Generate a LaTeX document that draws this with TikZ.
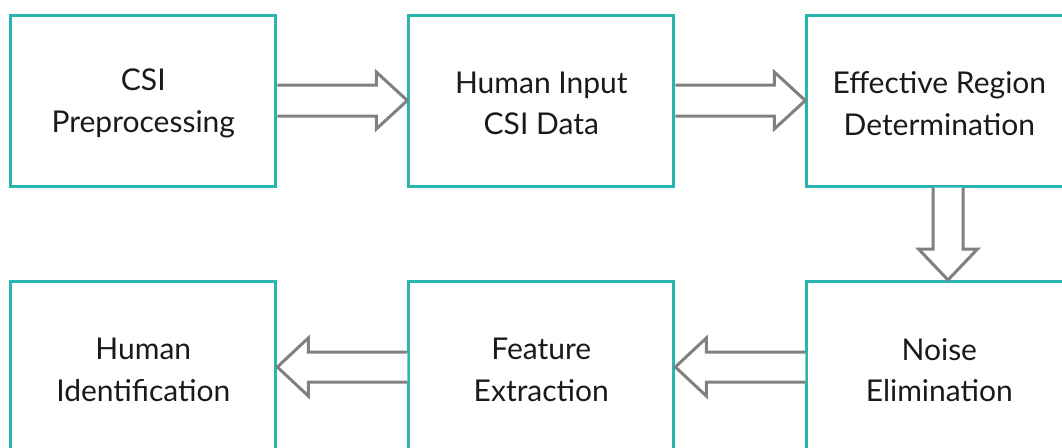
\documentclass[tikz,border=0pt]{standalone}
\usepackage{fontspec}
\setmainfont{Lato}
\usetikzlibrary{calc}
\definecolor{boxteal}{HTML}{2BB5B0}
\definecolor{arrowgray}{HTML}{808080}
\definecolor{textdark}{HTML}{1A1A1A}
\tikzset{
  stage/.style={draw=boxteal, line width=3pt, fill=white, minimum width=265pt,
    minimum height=171pt, inner sep=0pt,
    label={[stagetext]center:#1}},
  stagetext/.style={align=center, text=textdark, yshift=-3pt, inner sep=0pt,
    font=\fontsize{30}{41.5}\selectfont},
  fatarrow/.style={draw=arrowgray, line width=3pt, fill=white, line join=miter},
}
\begin{document}
\begin{tikzpicture}[x=1pt, y=-1pt]
  \useasboundingbox (0,0) rectangle (1062,447);
  % top row, left to right
  \node[stage={CSI\\Preprocessing}] (pre) at (143.3,100.5) {};
  \node[stage={Human Input\\CSI Data}] (inp) at (541.3,100.5) {};
  \node[stage={Effective Region\\Determination}] (reg) at (939.3,100.5) {};
  % bottom row, right to left
  \node[stage={Noise\\Elimination}] (noi) at (939.3,367) {};
  \node[stage={Feature\\Extraction}] (fea) at (541.3,367) {};
  \node[stage={Human\\Identification}] (hid) at (143.3,367) {};

  % hollow block arrows between stages
  \draw[fatarrow] ($(pre.east)+(0,-15.5)$) -- ($(inp.west)+(-31,-15.5)$)
    -- ($(inp.west)+(-31,-28.5)$) -- (inp.west) -- ($(inp.west)+(-31,28.5)$)
    -- ($(inp.west)+(-31,15.5)$) -- ($(pre.east)+(0,15.5)$);
  \draw[fatarrow] ($(inp.east)+(0,-15.5)$) -- ($(reg.west)+(-31,-15.5)$)
    -- ($(reg.west)+(-31,-28.5)$) -- (reg.west) -- ($(reg.west)+(-31,28.5)$)
    -- ($(reg.west)+(-31,15.5)$) -- ($(inp.east)+(0,15.5)$);
  \coordinate (dtop) at ($(reg.south)+(8.7,0)$);
  \coordinate (dtip) at ($(noi.north)+(8.7,0)$);
  \draw[fatarrow] ($(dtop)+(-15,0)$) -- ($(dtip)+(-15,-31)$)
    -- ($(dtip)+(-29.5,-31)$) -- (dtip) -- ($(dtip)+(29.5,-31)$)
    -- ($(dtip)+(15,-31)$) -- ($(dtop)+(15,0)$);
  \draw[fatarrow] ($(noi.west)+(0,-15)$) -- ($(fea.east)+(31,-15)$)
    -- ($(fea.east)+(31,-29)$) -- (fea.east) -- ($(fea.east)+(31,29)$)
    -- ($(fea.east)+(31,15)$) -- ($(noi.west)+(0,15)$);
  \draw[fatarrow] ($(fea.west)+(0,-15)$) -- ($(hid.east)+(31,-15)$)
    -- ($(hid.east)+(31,-29)$) -- (hid.east) -- ($(hid.east)+(31,29)$)
    -- ($(hid.east)+(31,15)$) -- ($(fea.west)+(0,15)$);
\end{tikzpicture}
\end{document}
